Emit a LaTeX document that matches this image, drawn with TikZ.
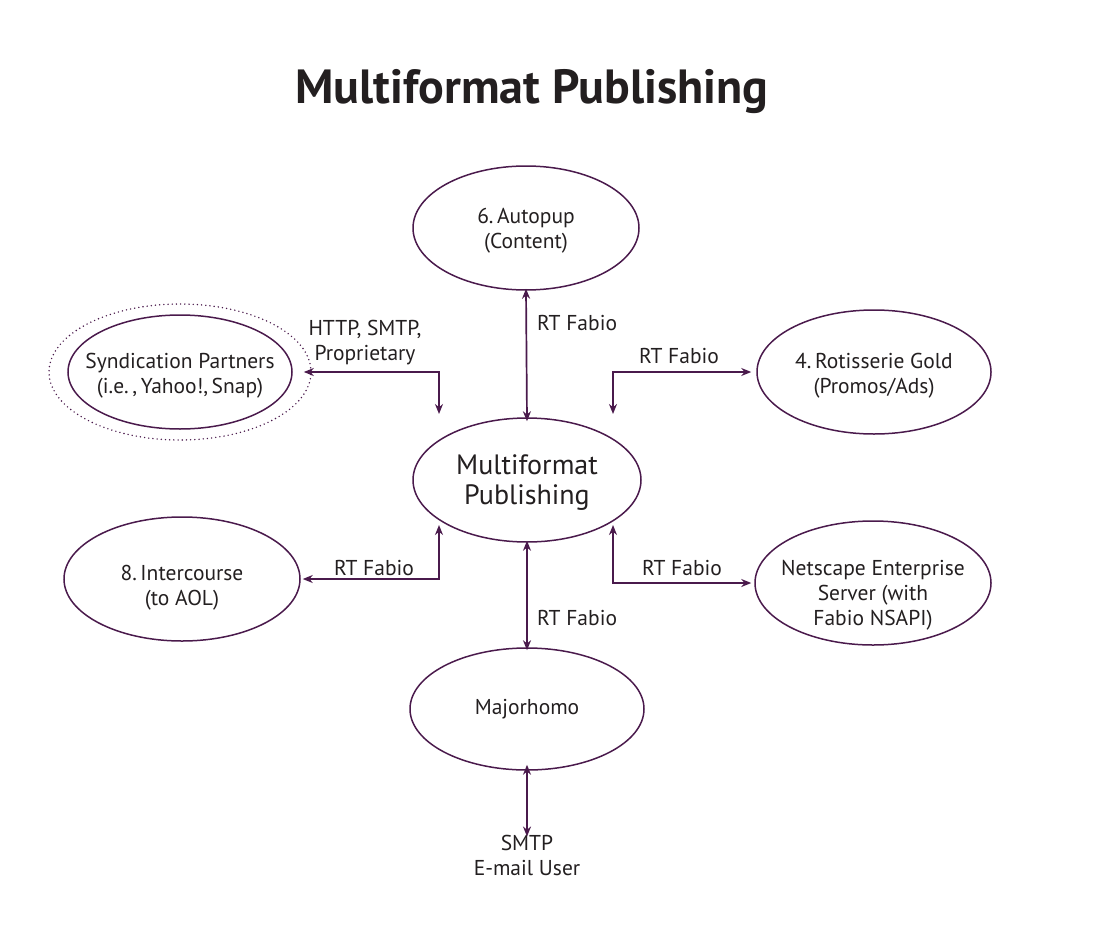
\documentclass[tikz,border=0pt]{standalone}
\usepackage{fontspec}
\setmainfont{PT Sans}
\usetikzlibrary{shapes.geometric,arrows.meta,calc}
\definecolor{plum}{HTML}{4A1A4C}
\definecolor{ink}{HTML}{231F20}
\newcommand{\lowtext}[2]{\raisebox{-#1}[\height][\depth]{\begin{tabular}{@{}c@{}}#2\end{tabular}}}
\begin{document}
\begin{tikzpicture}[x=1pt,y=-1pt,
  oval/.style={ellipse,draw=plum,line width=1.5pt,inner xsep=-40pt,inner ysep=-15pt,align=center,
    text=ink,font=\fontsize{21.5}{25}\selectfont},
  tip/.tip={Stealth[length=10pt,width=8pt]},
  link/.style={draw=plum,line width=1.7pt,tip-tip},
  lbl/.style={text=ink,font=\fontsize{21.5}{25}\selectfont,align=center,inner sep=0pt}]
\useasboundingbox (0,0) rectangle (1100,950);
\node[text=ink,font=\bfseries\fontsize{48}{54}\selectfont] (title) at (532,92) {Multiformat Publishing};

\node[oval,minimum width=226pt,minimum height=124pt] (auto) at (526,228) {\lowtext{3pt}{6.\,Autopup\\(Content)}};
\node[oval,minimum width=224pt,minimum height=114pt] (synd) at (180,372) {\lowtext{4pt}{Syndication Partners\\(i.e.\,,\,Yahoo!,\,Snap)}};
\node[ellipse,draw=plum,line width=1.6pt,line cap=round,dash pattern=on 0pt off 4.2pt,inner sep=0pt,minimum width=262pt,minimum height=136pt] (dsynd) at (180,372) {};
\node[oval,minimum width=234pt,minimum height=124pt] (roti) at (874,372) {\lowtext{4pt}{4.\,Rotisserie Gold\\(Promos/Ads)}};
\node[oval,minimum width=228pt,minimum height=124pt,font=\fontsize{28}{30}\selectfont] (mf) at (527,480) {\lowtext{3pt}{Multiformat\\Publishing}};
\node[oval,minimum width=236pt,minimum height=124pt] (inter) at (182,579) {\lowtext{9pt}{8.\,Intercourse\\(to AOL)}};
\node[oval,minimum width=236pt,minimum height=124pt] (nets) at (873,583) {\lowtext{12pt}{Netscape Enterprise\\Server (with\\Fabio NSAPI)}};
\node[oval,minimum width=234pt,minimum height=122pt] (major) at (527,709) {Majorhomo};
\node[lbl] (smtp) at (527,855) {SMTP\\E-mail User};

% connectors
\draw[link] ([yshift=2pt]auto.south) -- ([yshift=-4pt]mf.north);
\node[lbl,anchor=west] at (537,323) {RT Fabio};

\draw[link] ([xshift=-8pt]dsynd.east) -| ($(mf.center)+(-88,-66)$);
\node[lbl] at (365,343) {HTTP, SMTP,\\Proprietary};

\draw[link] ($(mf.center)+(86,-66)$) |- ([xshift=-5pt]roti.west);
\node[lbl] at (679,356) {RT Fabio};

\draw[link] ($(mf.center)+(-88,45)$) |- ([xshift=2pt]inter.east);
\node[lbl] at (374,568) {RT Fabio};

\draw[link] ($(mf.center)+(86,45)$) |- ([xshift=-3pt]nets.west);
\node[lbl] at (682,568) {RT Fabio};

\draw[link] ([yshift=2pt]mf.south) -- ([yshift=-3pt]major.north);
\node[lbl,anchor=west] at (537,618) {RT Fabio};

\draw[link] ([yshift=6pt]major.south) -- ([yshift=-2pt]smtp.north);
\end{tikzpicture}
\end{document}
